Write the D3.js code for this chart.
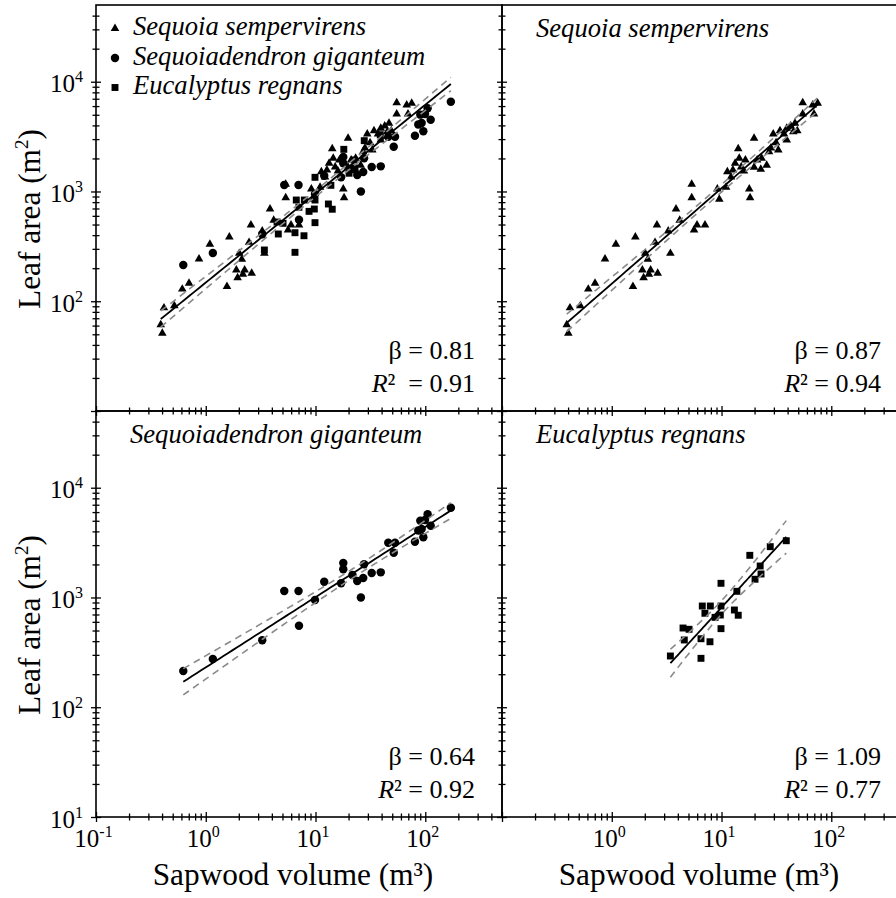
<!DOCTYPE html>
<html>
<head>
<meta charset="utf-8">
<script src="https://cdn.jsdelivr.net/npm/d3@7"></script>
<style>
  html, body { margin: 0; padding: 0; background: #fff; }
  text { font-family: 'Liberation Serif', 'Times New Roman', Tinos, 'DejaVu Serif', serif; }
</style>
</head>
<body>
<svg id="chart" width="896" height="898" font-family="Liberation Serif, Times New Roman, DejaVu Serif, serif"></svg>
<script>
// ---- Data: sapwood volume (m³) and leaf area (m²) per tree ----
const sempervirensVolume = [0.389, 0.402, 0.416, 0.517, 0.611, 0.704, 0.868, 1.09, 1.64, 1.56,
  1.90, 2.26, 1.95, 2.18, 2.62, 2.13, 2.02, 2.48, 3.42, 2.58,
  3.27, 4.16, 3.85, 5.62, 5.98, 5.35, 5.35, 7.07, 9.16, 9.55,
  11.0, 11.3, 13.3, 14.2, 14.5, 16.0, 16.5, 17.9, 18.2, 19.8,
  19.8, 22.8, 23.2, 25.8, 27.1, 29.6, 31.4, 32.9, 34.1, 37.1,
  39.3, 42.7, 45.1, 46.7, 49.0, 54.9, 54.9, 67.7, 69.6, 75.2,
  12.2, 39.3, 12.7, 15.1, 21.1, 28.2];
const sempervirensArea = [61, 51, 87, 91, 129, 146, 243, 330, 385, 136,
  193, 193, 164, 176, 180, 241, 273, 344, 273, 495,
  437, 546, 692, 446, 495, 1163, 878, 495, 1053, 849,
  1092, 1514, 1806, 2454, 2006, 1537, 1936, 1053, 878, 3051,
  1661, 1593, 2006, 1732, 2303, 3340, 2783, 2387, 3579, 3340,
  2944, 3950, 3505, 4180, 3579, 5082, 6441, 6136, 5082, 6360,
  1355, 3763, 1570, 1671, 1936, 2490];

const giganteumVolume = [0.624, 1.16, 3.27, 5.19, 7.00, 7.07, 9.89, 12.0, 17.1, 17.9,
  17.9, 21.7, 24.0, 25.9, 27.2, 27.7, 32.5, 39.3, 46.0, 53.0,
  51.6, 80.5, 86.3, 90.1, 92.7, 96.0, 99.4, 105, 112, 171];
const giganteumArea = [214, 275, 407, 1145, 1145, 553, 948, 1393, 1346, 2061,
  1811, 1603, 1413, 1000, 1503, 2005, 1671, 1694, 3155, 3155,
  2559, 3222, 4077, 5012, 4207, 3533, 5083, 5731, 4510, 6577];

const regnansVolume = [3.42, 6.50, 4.58, 4.46, 5.06, 6.50, 7.85, 9.89, 6.68, 7.91,
  7.06, 9.89, 8.73, 9.75, 13.1, 14.2, 9.89, 13.8, 18.1, 20.2,
  22.5, 22.9, 27.8, 38.9];
const regnansArea = [293, 279, 410, 527, 513, 421, 395, 520, 836, 836,
  718, 836, 659, 692, 769, 689, 1346, 1138, 2421, 1466,
  1936, 1637, 2904, 3289];

const speciesNames = ["Sequoia sempervirens", "Sequoiadendron giganteum", "Eucalyptus regnans"];

// Scaling exponents and fit quality for the four panels (pooled, then each species)
const panelBeta = [0.81, 0.87, 0.64, 1.09];
const panelR2 = ["0.91", "0.94", "0.92", "0.77"];

// Decade labels on the axes
const xExponents = [-1, 0, 1, 2];
const yExponents = [1, 2, 3, 4];

// ---- Layout ----
const svg = d3.select("#chart");
const SIZE = 406, LEFT = 96, TOP = 5;
const x = d3.scaleLog().domain([0.1, 500]).range([0, SIZE]);
const y = d3.scaleLog().domain([10, 50000]).range([SIZE, 0]);

const species = [
  { volume: sempervirensVolume, area: sempervirensArea, symbol: d3.symbolTriangle, size: 32 },
  { volume: giganteumVolume, area: giganteumArea, symbol: d3.symbolCircle, size: 56 },
  { volume: regnansVolume, area: regnansArea, symbol: d3.symbolSquare, size: 48 }
];

const panels = [
  { col: 0, row: 0, members: [0, 1, 2], legend: true, r2Gap: "  " },
  { col: 1, row: 0, members: [0], title: speciesNames[0], r2Gap: " " },
  { col: 0, row: 1, members: [1], title: speciesNames[1], r2Gap: " " },
  { col: 1, row: 1, members: [2], title: speciesNames[2], r2Gap: " " }
];

// all 1..9 × 10^k positions inside a log domain
function logTicks(lo, hi) {
  const out = [];
  for (let k = Math.floor(Math.log10(lo)); k <= Math.ceil(Math.log10(hi)); k++) {
    for (let m = 1; m <= 9; m++) {
      const v = m * Math.pow(10, k);
      if (v >= lo * 0.999 && v < hi * 0.999) out.push(v);
    }
  }
  return out;
}
const isMajor = v => Math.abs(Math.log10(v) - Math.round(Math.log10(v))) < 1e-9;

// two-sided 95% Student t quantile (Cornish–Fisher expansion)
function t975(df) {
  const z = 1.959964;
  return z + (z ** 3 + z) / (4 * df) + (5 * z ** 5 + 16 * z ** 3 + 3 * z) / (96 * df * df);
}

// fitted log–log line with the given exponent and its 95% confidence band
function fitBand(vol, area, beta) {
  const lx = vol.map(Math.log10), ly = area.map(Math.log10);
  const n = lx.length, mx = d3.mean(lx), my = d3.mean(ly);
  const a = my - beta * mx;
  const sxx = d3.sum(lx, v => (v - mx) ** 2);
  const sse = d3.sum(lx, (v, i) => (ly[i] - a - beta * v) ** 2);
  const s = Math.sqrt(sse / (n - 2));
  const t = t975(n - 2);
  const [lo, hi] = d3.extent(lx);
  return d3.range(0, 61).map(i => {
    const v = lo + (hi - lo) * i / 60;
    const fit = a + beta * v;
    const h = t * s * Math.sqrt(1 / n + (v - mx) ** 2 / sxx);
    return { v, fit, up: fit + h, dn: fit - h };
  });
}

function powerLabel(text, exp) {
  text.append("tspan").text("10");
  text.append("tspan").attr("dy", -10).attr("font-size", 16).text(exp < 0 ? "-" + Math.abs(exp) : String(exp));
}

const xTickValues = logTicks(0.1, 500);
const yTickValues = logTicks(10, 50000);

panels.forEach((p, pi) => {
  const g = svg.append("g").attr("transform", `translate(${LEFT + p.col * SIZE},${TOP + p.row * SIZE})`);

  // points, pooled panel draws every species
  const pts = [];
  p.members.forEach(si => {
    const sp = species[si];
    sp.volume.forEach((v, i) => pts.push({ v, a: sp.area[i], sp }));
  });
  g.append("g").selectAll("path").data(pts).join("path")
    .attr("transform", d => `translate(${x(d.v)},${y(d.a)})`)
    .attr("d", d => d3.symbol(d.sp.symbol, d.sp.size)())
    .attr("fill", "#000");

  // regression line and confidence band
  const vols = pts.map(d => d.v), areas = pts.map(d => d.a);
  const band = fitBand(vols, areas, panelBeta[pi]);
  const mk = key => d3.line().x(d => x(10 ** d.v)).y(d => y(10 ** d[key]));
  ["up", "dn"].forEach(k => {
    g.append("path").datum(band).attr("d", mk(k))
      .attr("fill", "none").attr("stroke", "#8a8a8a").attr("stroke-width", 1.6)
      .attr("stroke-dasharray", "7,5");
  });
  g.append("path").datum(band).attr("d", mk("fit"))
    .attr("fill", "none").attr("stroke", "#000").attr("stroke-width", 1.8);

  // frame
  g.append("rect").attr("width", SIZE).attr("height", SIZE)
    .attr("fill", "none").attr("stroke", "#000").attr("stroke-width", 1.6);

  // bottom axis (ticks cross the line)
  const xa = g.append("g").attr("transform", `translate(0,${SIZE})`)
    .call(d3.axisBottom(x).tickValues(xTickValues).tickSize(0).tickFormat(""));
  xa.attr("font-family", null).attr("font-size", null);
  xa.select(".domain").remove();
  xa.selectAll(".tick line")
    .attr("y1", d => isMajor(d) ? -5 : -3.5).attr("y2", d => isMajor(d) ? 5 : 3.5)
    .attr("stroke", "#000").attr("stroke-width", 1.3);
  if (p.row === 1) {
    xa.selectAll(".tick").filter(d => isMajor(d) && xExponents.includes(Math.round(Math.log10(d))) && !(p.col === 1 && d < 0.5))
      .append("text")
      .attr("x", -3).attr("y", 30).attr("fill", "#000").attr("text-anchor", "middle")
      .attr("font-size", 25)
      .each(function (d) { powerLabel(d3.select(this), Math.round(Math.log10(d))); });
  }

  // left axis
  const ya = g.append("g").call(d3.axisLeft(y).tickValues(yTickValues).tickSize(0).tickFormat(""));
  ya.attr("font-family", null).attr("font-size", null);
  ya.select(".domain").remove();
  ya.selectAll(".tick line")
    .attr("x1", d => isMajor(d) ? -5 : -3.5).attr("x2", d => isMajor(d) ? 5 : 3.5)
    .attr("stroke", "#000").attr("stroke-width", 1.3);
  if (p.col === 0) {
    ya.selectAll(".tick").filter(d => isMajor(d) && yExponents.includes(Math.round(Math.log10(d))) && !(p.row === 0 && d < 50))
      .append("text")
      .attr("x", -13).attr("y", 10).attr("fill", "#000").attr("text-anchor", "end")
      .attr("font-size", 25)
      .each(function (d) { powerLabel(d3.select(this), Math.round(Math.log10(d))); });
  }

  // species title
  if (p.title) {
    g.append("text").attr("x", 34).attr("y", 32).attr("font-size", 26.6)
      .attr("font-style", "italic").text(p.title);
  }

  // legend
  if (p.legend) {
    speciesNames.forEach((name, i) => {
      const ly = 30 + i * 29.5;
      g.append("path").attr("transform", `translate(19,${ly - 6.5})`)
        .attr("d", d3.symbol(species[i].symbol, species[i].size)()).attr("fill", "#000");
      g.append("text").attr("x", 37).attr("y", ly).attr("font-size", 26.6)
        .attr("font-style", "italic").text(name);
    });
  }

  // exponent and R²
  const stat = g.append("g").attr("text-anchor", "end").attr("font-size", 26);
  stat.append("text").attr("x", SIZE - 27).attr("y", SIZE - 52).text("β = " + panelBeta[pi].toFixed(2));
  const r2 = stat.append("text").attr("x", SIZE - 27).attr("y", SIZE - 19).style("white-space", "pre");
  r2.append("tspan").attr("font-style", "italic").text("R");
  r2.append("tspan").text("²" + p.r2Gap + "= " + panelR2[pi]);
});

// axis titles
[0, 1].forEach(col => {
  svg.append("text")
    .attr("x", LEFT + col * SIZE + SIZE / 2 - 6).attr("y", TOP + 2 * SIZE + 68)
    .attr("text-anchor", "middle").attr("font-size", 31.3)
    .text("Sapwood volume (m³)");
});
[0, 1].forEach(row => {
  const t = svg.append("text")
    .attr("transform", `translate(40,${TOP + row * SIZE + SIZE / 2 + 11}) rotate(-90)`)
    .attr("text-anchor", "middle").attr("font-size", 31.3);
  t.append("tspan").text("Leaf area (m");
  t.append("tspan").attr("font-size", 19).attr("dy", -12).text("2");
  t.append("tspan").attr("dy", 12).text(")");
});
</script>
</body>
</html>
